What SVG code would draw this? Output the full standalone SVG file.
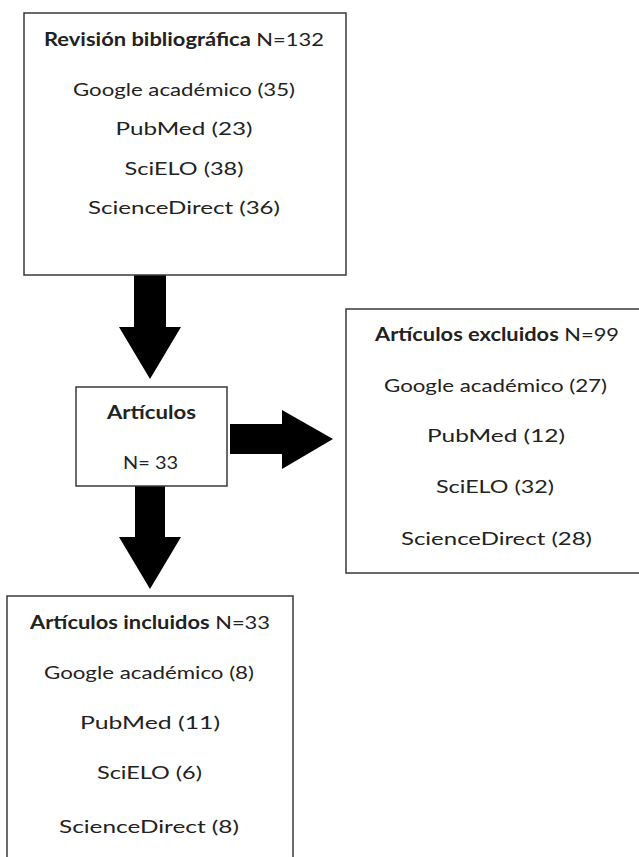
<svg xmlns="http://www.w3.org/2000/svg" width="639" height="857" viewBox="0 0 639 857">
<style>
.box{fill:#fff;stroke:#3a3a3a;stroke-width:1.5}
.t{font-family:Lato,"Open Sans","Liberation Sans",sans-serif;font-size:18px;fill:#222;text-anchor:middle}
.b{font-weight:bold}
.arrow{fill:#000}
</style>
<rect width="639" height="857" fill="#fff"/>
<g id="connectors">
<polygon class="arrow" points="134,275 166,275 166,327 181,327 150,379 119,327 134,327"/>
<polygon class="arrow" points="230,424 282,424 282,410 333,439 282,469 282,454 230,454"/>
<polygon class="arrow" points="135,486 165,486 165,537 181,537 150,589 119,537 135,537"/>
</g>
<g id="revision">
<rect class="box" x="24" y="13" width="322" height="262"/>
<text class="t" x="184" y="46" textLength="280" lengthAdjust="spacingAndGlyphs"><tspan class="b">Revisión bibliográfica</tspan> N=132</text>
<text class="t" x="184" y="96" textLength="222" lengthAdjust="spacingAndGlyphs">Google académico (35)</text>
<text class="t" x="184" y="135" textLength="137" lengthAdjust="spacingAndGlyphs">PubMed  (23)</text>
<text class="t" x="184" y="175" textLength="119" lengthAdjust="spacingAndGlyphs">SciELO (38)</text>
<text class="t" x="184" y="214" textLength="192" lengthAdjust="spacingAndGlyphs">ScienceDirect (36)</text>
</g>
<g id="articulos">
<rect class="box" x="76" y="387" width="151" height="99"/>
<text class="t b" x="151.5" y="419" textLength="89" lengthAdjust="spacingAndGlyphs">Artículos</text>
<text class="t" x="150.5" y="469" textLength="55" lengthAdjust="spacingAndGlyphs">N= 33</text>
</g>
<g id="excluidos">
<rect class="box" x="346" y="309" width="300" height="264"/>
<text class="t" x="497" y="341" textLength="244" lengthAdjust="spacingAndGlyphs"><tspan class="b">Artículos excluidos</tspan> N=99</text>
<text class="t" x="495.5" y="392" textLength="223" lengthAdjust="spacingAndGlyphs">Google académico (27)</text>
<text class="t" x="496" y="442" textLength="138" lengthAdjust="spacingAndGlyphs">PubMed  (12)</text>
<text class="t" x="495" y="493" textLength="118" lengthAdjust="spacingAndGlyphs">SciELO (32)</text>
<text class="t" x="496.5" y="545" textLength="191" lengthAdjust="spacingAndGlyphs">ScienceDirect (28)</text>
</g>
<g id="incluidos">
<rect class="box" x="7" y="596" width="286" height="270"/>
<text class="t" x="150" y="629" textLength="240" lengthAdjust="spacingAndGlyphs"><tspan class="b">Artículos incluidos</tspan> N=33</text>
<text class="t" x="149" y="679" textLength="210" lengthAdjust="spacingAndGlyphs">Google académico (8)</text>
<text class="t" x="150" y="729" textLength="140" lengthAdjust="spacingAndGlyphs">PubMed  (11)</text>
<text class="t" x="149.5" y="779" textLength="105" lengthAdjust="spacingAndGlyphs">SciELO (6)</text>
<text class="t" x="149" y="833" textLength="180" lengthAdjust="spacingAndGlyphs">ScienceDirect (8)</text>
</g>
</svg>
